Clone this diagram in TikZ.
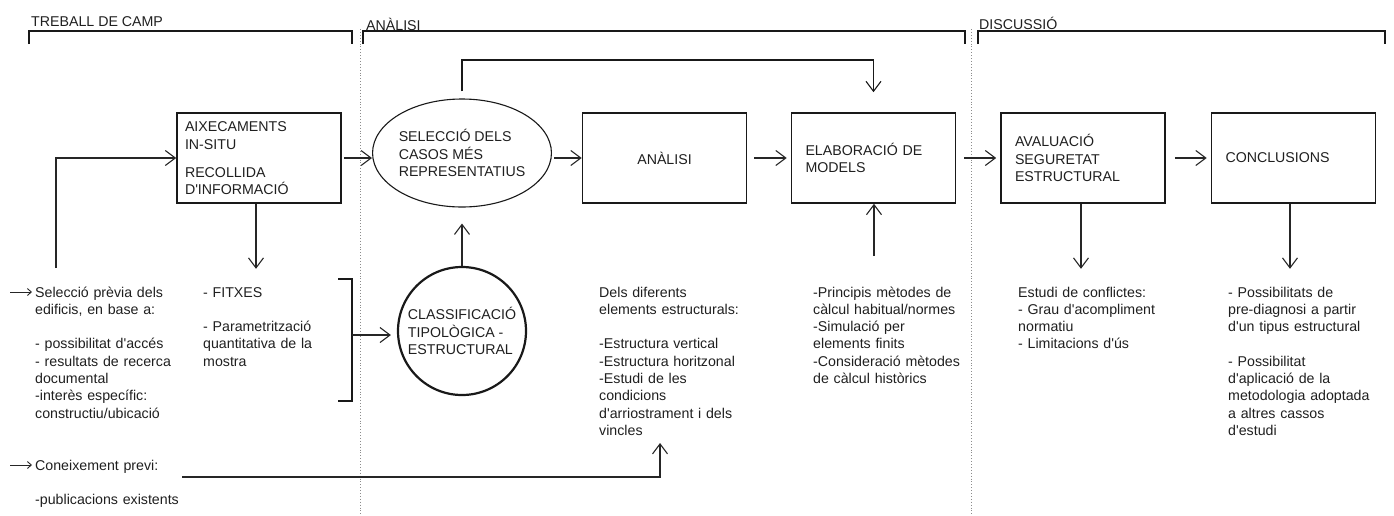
\documentclass[tikz,border=0pt]{standalone}
\usepackage{fontspec}
\setmainfont{Liberation Sans}
\usetikzlibrary{arrows.meta,shapes.geometric,calc}
\newcommand\fs{\fontsize{14.2}{17.3}\selectfont}
\newcommand\q{\textquotesingle}
\begin{document}
\begin{tikzpicture}[x=1pt,y=-1pt,
  every node/.style={font=\fs, text=black!88},
  box/.style={draw=black!90, line width=1.6pt, rectangle, minimum width=164pt, minimum height=90pt,
              inner xsep=14pt, inner ysep=0pt, text width=136pt, align=left},
  txt/.style={anchor=base west, inner sep=0pt, text width=260pt, align=left},
  ttl/.style={anchor=base west, inner sep=0pt},
  arr/.style={draw=black!85, line width=1.1pt, -{Straight Barb[length=10pt,width=15pt]}},
  sarr/.style={draw=black!85, line width=0.9pt, -{Straight Barb[length=4pt,width=7pt]}},
  ln/.style={draw=black!85, line width=1.1pt},
  brk/.style={draw=black!90, line width=1.6pt},
  sep/.style={draw=black!45, line width=0.9pt, dotted}]
\useasboundingbox (0,0) rectangle (1394,515);

% separators
\draw[sep] (360,29) -- (360,515);
\draw[sep] (971,29) -- (971,515);

% headers
\node[ttl] (h1) at (31,26) {TREBALL DE CAMP};
\node[ttl] (h2) at (366,30) {ANÀLISI};
\node[ttl] (h3) at (979,29) {DISCUSSIÓ};
\draw[brk] (29,44) -- (29,31) -- (352,31) -- (352,44);
\draw[brk] (363,44) -- (363,31) -- (965,31) -- (965,44);
\draw[brk] (978,44) -- (978,31) -- (1385,31) -- (1385,44);

% main nodes
\node[box, inner xsep=8pt, text width=148pt] (aix) at (259,158)
  {\fontsize{14.2}{18.5}\selectfont AIXECAMENTS\\IN-SITU\\[9pt]RECOLLIDA\\D\q INFORMACIÓ};
\node[draw=black!90, line width=1.1pt, ellipse, minimum width=164pt, minimum height=108pt,
      inner sep=0pt, align=left] (sel) at (462,153)
  {\fontsize{14.2}{18.5}\selectfont SELECCIÓ DELS\\CASOS MÉS\\REPRESENTATIUS};
\node[box, align=center] (ana) at (664.5,158) {ANÀLISI};
\node[box] (ela) at (873.5,158) {ELABORACIÓ DE\\MODELS};
\node[box] (ava) at (1083,158) {AVALUACIÓ\\SEGURETAT\\ESTRUCTURAL};
\node[box] (con) at (1293.5,158) {CONCLUSIONS};
\node[draw=black!90, line width=2.2pt, circle, minimum size=128pt, inner sep=0pt, align=left] (cls) at (462,331)
  {\fontsize{14.2}{18.5}\selectfont CLASSIFICACIÓ\\TIPOLÒGICA -\\ESTRUCTURAL};

% text blocks
\node[txt] (sel0) at (35,297) {Selecció prèvia dels\\edificis, en base a:\\[17.3pt]- possibilitat d\q accés\\- resultats de recerca\\documental\\-interès específic:\\constructiu/ubicació};
\node[txt] (con0) at (35,470) {Coneixement previ:\\[17.3pt]-publicacions existents};
\node[txt] (fit) at (203,297) {- FITXES\\[17.3pt]- Parametrització\\quantitativa de la\\mostra};
\node[txt] (dels) at (599,297) {Dels diferents\\elements estructurals:\\[17.3pt]-Estructura vertical\\-Estructura horitzonal\\-Estudi de les\\condicions\\d\q arriostrament i dels\\vincles};
\node[txt] (pri) at (813,297) {-Principis mètodes de\\càlcul habitual/normes\\-Simulació per\\elements finits\\-Consideració mètodes\\de càlcul històrics};
\node[txt] (est) at (1018,297) {Estudi de conflictes:\\- Grau d\q acompliment\\normatiu\\- Limitacions d\q ús};
\node[txt] (pos) at (1228,297) {- Possibilitats de\\pre-diagnosi a partir\\d\q un tipus estructural\\[17.3pt]- Possibilitat\\d\q aplicació de la\\metodologia adoptada\\a altres cassos\\d\q estudi};

% small arrows before left texts
\coordinate (sa1) at (10,292);
\coordinate (sa2) at (10,465);
\draw[sarr] (sa1) -- ($(sel0.base west)+(-3,-5)$);
\draw[sarr] (sa2) -- ($(con0.base west)+(-3,-5)$);

% horizontal flow arrows
\draw[arr, shorten <=2pt] (aix.east) -- (aix.east -| sel.west);
\draw[arr, shorten <=2pt] (sel.east |- ana.west) -- (ana.west);
\draw[arr, shorten <=7pt, shorten >=4pt] (ana.east) -- (ela.west);
\draw[arr, shorten <=8pt, shorten >=4pt] (ela.east) -- (ava.west);
\draw[arr, shorten <=9pt, shorten >=4pt] (ava.east) -- (con.west);

% feedback loop on top
\draw[line width=1.6pt, draw=black!90, -{Straight Barb[length=10pt,width=15pt,line width=1.1pt]}]
  ($(sel.north)+(0,-7)$) |- ($(ela.north)+(0,-52)$) -- ($(ela.north)+(0,-20)$);

% left loop into survey box
\coordinate (ll) at (56,268);
\draw[arr] (ll) |- (aix.west);

% vertical arrows
\draw[arr] ($(aix.south)+(-3,0)$) -- ($(aix.south)+(-3,65)$);
\draw[arr] (cls.north) -- ($(sel.south)+(0,16)$);
\coordinate (eu) at (874,256);
\draw[arr] (eu) -- (eu |- ela.south);
\draw[arr] ($(ava.south)+(-2,0)$) -- ($(ava.south)+(-2,65)$);
\draw[arr] ($(con.south)+(-3.5,0)$) -- ($(con.south)+(-3.5,65)$);

% bracket round the survey outputs
\draw[brk, line width=1.4pt] (338,279) -- (352,279) -- (352,401) -- (338,401);
\coordinate (bk) at (352,335);
\draw[arr, shorten >=6pt] (bk) -- (bk -| cls.west);

% prior knowledge line into the analysis
\coordinate (pk) at (182,477);
\coordinate (pe) at (660,443);
\draw[arr] (pk) -| (pe);
\end{tikzpicture}
\end{document}
